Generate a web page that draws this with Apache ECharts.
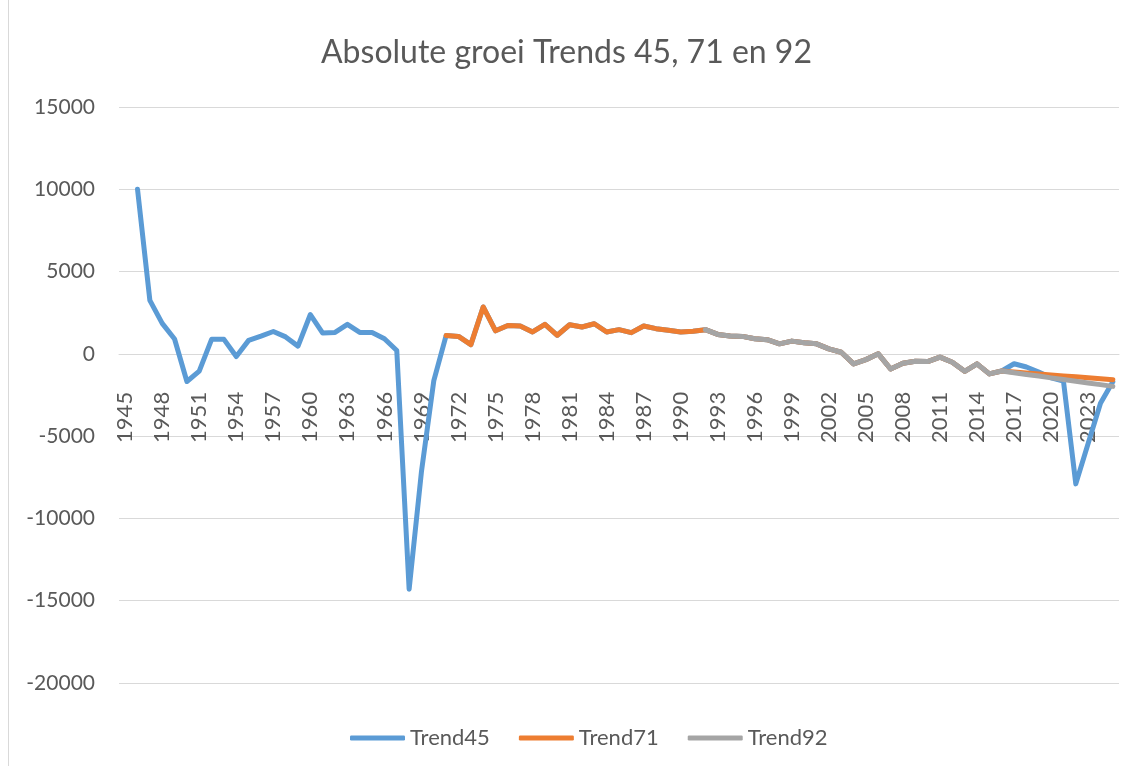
<!DOCTYPE html>
<html>
<head>
<meta charset="utf-8">
<title>Absolute groei Trends 45, 71 en 92</title>
<script src="https://cdn.jsdelivr.net/npm/echarts@6/dist/echarts.min.js"></script>
<style>
  html, body { margin: 0; padding: 0; background: #fff; }
  #chart { width: 1138px; height: 766px; }
</style>
</head>
<body>
<div id="chart"></div>
<script>
// jaartallen op de x-as
const years = [
  "1945", "1946", "1947", "1948", "1949", "1950", "1951", "1952", "1953", "1954",
  "1955", "1956", "1957", "1958", "1959", "1960", "1961", "1962", "1963", "1964",
  "1965", "1966", "1967", "1968", "1969", "1970", "1971", "1972", "1973", "1974",
  "1975", "1976", "1977", "1978", "1979", "1980", "1981", "1982", "1983", "1984",
  "1985", "1986", "1987", "1988", "1989", "1990", "1991", "1992", "1993", "1994",
  "1995", "1996", "1997", "1998", "1999", "2000", "2001", "2002", "2003", "2004",
  "2005", "2006", "2007", "2008", "2009", "2010", "2011", "2012", "2013", "2014",
  "2015", "2016", "2017", "2018", "2019", "2020", "2021", "2022", "2023", "2024",
  "2025"
];

// Trend45: 1946 t/m 2025
const trend45Start = "1946";
const trend45 = [
  10000, 3250, 1850, 900, -1680, -1050, 880, 880, -160, 820,
  1080, 1360, 1030, 470, 2390, 1260, 1300, 1790, 1300, 1300,
  920, 200, -14300, -7150, -1630, 1120, 1060, 560, 2850, 1400,
  1720, 1690, 1330, 1790, 1130, 1770, 1630, 1830, 1330, 1470,
  1290, 1690, 1530, 1430, 1330, 1380, 1470, 1180, 1080, 1060,
  920, 860, 610, 775, 670, 610, 300, 100, -610, -350,
  0, -920, -570, -450, -470, -200, -510, -1060, -610, -1220,
  -1040, -600, -800, -1100, -1450, -1650, -7900, -5450, -3000, -1700
];

// Trend71: 1971 t/m 2025
const trend71Start = "1971";
const trend71 = [
  1120, 1060, 560, 2850, 1400, 1720, 1690, 1330, 1790, 1130,
  1770, 1630, 1830, 1330, 1470, 1290, 1690, 1530, 1430, 1330,
  1380, 1470, 1180, 1080, 1060, 920, 860, 610, 775, 670,
  610, 300, 100, -610, -350, 0, -920, -570, -450, -470,
  -200, -510, -1060, -610, -1220, -1040, -1100, -1160, -1220, -1280,
  -1340, -1390, -1450, -1510, -1570
];

// Trend92: 1992 t/m 2025
const trend92Start = "1992";
const trend92 = [
  1470, 1180, 1080, 1060, 920, 860, 610, 775, 670, 610,
  300, 100, -610, -350, 0, -920, -570, -450, -470, -200,
  -510, -1060, -610, -1220, -1040, -1150, -1250, -1350, -1460, -1560,
  -1660, -1770, -1870, -1975
];

const yTicks = { min: -20000, max: 15000, interval: 5000 };

const textColor = "#595959";
const gridColor = "#d9d9d9";
const fontName = "Lato";

const gridTop = 107;
const gridBottom = 83;
const gridHeight = 766 - gridTop - gridBottom;
// x-as op de nullijn: afstand vanaf de onderkant van het plotvlak
const zeroOffset = gridHeight * (0 - yTicks.min) / (yTicks.max - yTicks.min);

// lege plekken voor de jaren voor de start van een reeks
function pad(start, values) {
  const n = years.indexOf(start);
  return new Array(n).fill(null).concat(values);
}

const chart = echarts.init(document.getElementById("chart"));

function lineSeries(name, color, data) {
  return {
    name: name,
    type: "line",
    data: data,
    symbol: "none",
    connectNulls: false,
    animation: false,
    lineStyle: {
      color: color,
      width: 5,
      cap: "round",
      join: "round"
    },
    itemStyle: { color: color }
  };
}

chart.setOption({
  backgroundColor: "#fff",
  title: {
    text: "Absolute groei Trends 45, 71 en 92",
    left: 316,
    top: 32,
    textStyle: {
      color: textColor,
      fontFamily: fontName,
      fontSize: 32,
      fontWeight: "normal"
    }
  },
  legend: {
    bottom: 12,
    left: 345,
    icon: "roundRect",
    itemWidth: 55,
    itemHeight: 5,
    itemGap: 29,
    textStyle: {
      color: textColor,
      fontFamily: fontName,
      fontSize: 22
    },
    data: ["Trend45", "Trend71", "Trend92"]
  },
  grid: {
    left: 119,
    right: 19,
    top: gridTop,
    bottom: gridBottom,
    containLabel: false
  },
  xAxis: {
    type: "category",
    data: years,
    boundaryGap: true,
    position: "bottom",
    offset: -zeroOffset,
    axisLine: {
      onZero: false,
      lineStyle: { color: gridColor, width: 1 }
    },
    axisTick: { show: false },
    axisLabel: {
      interval: 2,
      rotate: 90,
      margin: 38,
      color: textColor,
      fontFamily: fontName,
      fontSize: 22
    }
  },
  yAxis: {
    type: "value",
    min: yTicks.min,
    max: yTicks.max,
    interval: yTicks.interval,
    axisLine: { show: false },
    axisTick: { show: false },
    axisLabel: {
      margin: 24,
      color: textColor,
      fontFamily: fontName,
      fontSize: 21,
      formatter: function (v) { return String(v); }
    },
    splitLine: {
      lineStyle: { color: gridColor, width: 1 }
    }
  },
  graphic: [
    {
      type: "line",
      shape: { x1: 8.5, y1: 0, x2: 8.5, y2: 766 },
      style: { stroke: gridColor, lineWidth: 1 }
    }
  ],
  series: [
    lineSeries("Trend45", "#5b9bd5", pad(trend45Start, trend45)),
    lineSeries("Trend71", "#ed7d31", pad(trend71Start, trend71)),
    lineSeries("Trend92", "#a5a5a5", pad(trend92Start, trend92))
  ]
});
</script>
</body>
</html>
